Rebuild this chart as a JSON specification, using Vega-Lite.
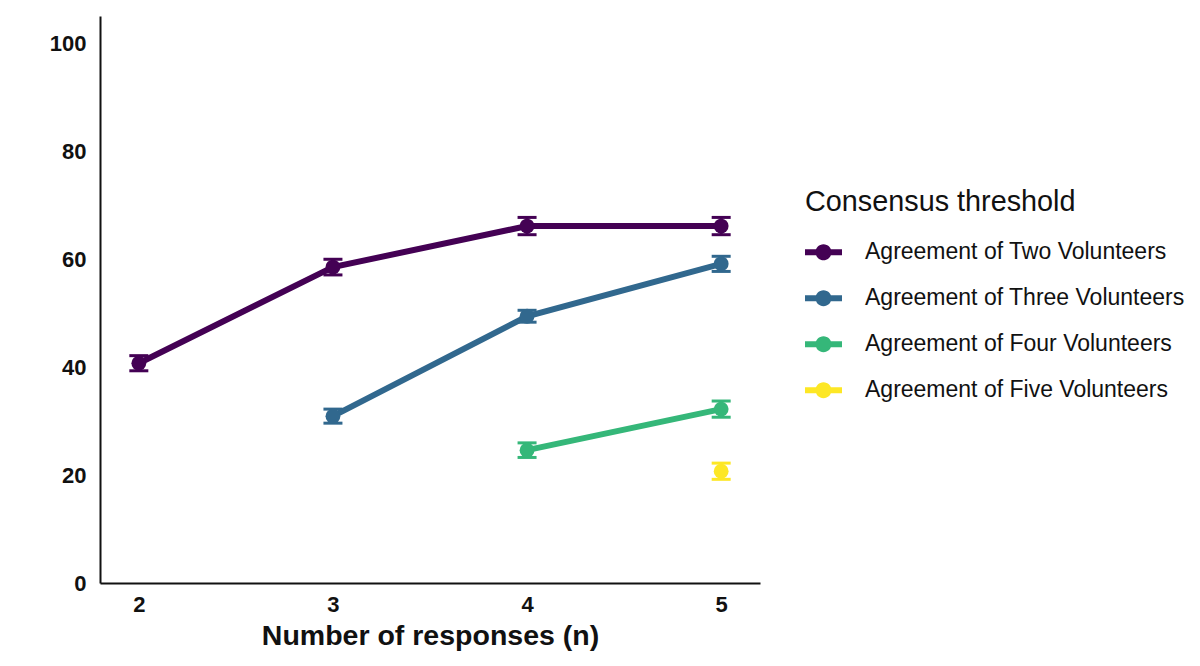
{
  "$schema": "https://vega.github.io/schema/vega-lite/v6.json",
  "autosize": {"type": "none"},
  "width": 660,
  "height": 567,
  "padding": {"left": 100, "top": 16, "right": 440, "bottom": 83},
  "background": "white",
  "config": {
    "view": {"stroke": null},
    "font": "Liberation Sans",
    "axis": {
      "grid": false,
      "ticks": false,
      "domainColor": "#111111",
      "domainWidth": 2,
      "labelFont": "Liberation Sans",
      "labelFontWeight": "bold",
      "labelFontSize": 22,
      "labelColor": "#111111",
      "titleFont": "Liberation Sans",
      "titleFontWeight": "bold",
      "titleFontSize": 28.5,
      "titleColor": "#111111"
    },
    "legend": {
      "titleFont": "Liberation Sans",
      "titleFontSize": 28.8,
      "titleFontWeight": "normal",
      "titleColor": "#111111",
      "titleLimit": 500,
      "labelFont": "Liberation Sans",
      "labelFontSize": 23,
      "labelColor": "#111111",
      "labelLimit": 400
    }
  },
  "data": {
    "values": [
      {"threshold": "Agreement of Two Volunteers", "n": 2, "accuracy": 40.7, "lo": 39.3, "hi": 42.1},
      {"threshold": "Agreement of Two Volunteers", "n": 3, "accuracy": 58.5, "lo": 57.05, "hi": 59.95},
      {"threshold": "Agreement of Two Volunteers", "n": 4, "accuracy": 66.1, "lo": 64.5, "hi": 67.7},
      {"threshold": "Agreement of Two Volunteers", "n": 5, "accuracy": 66.1, "lo": 64.5, "hi": 67.7},
      {"threshold": "Agreement of Three Volunteers", "n": 3, "accuracy": 30.9, "lo": 29.6, "hi": 32.2},
      {"threshold": "Agreement of Three Volunteers", "n": 4, "accuracy": 49.4, "lo": 48.3, "hi": 50.5},
      {"threshold": "Agreement of Three Volunteers", "n": 5, "accuracy": 59.1, "lo": 57.7, "hi": 60.5},
      {"threshold": "Agreement of Four Volunteers", "n": 4, "accuracy": 24.6, "lo": 23.25, "hi": 25.95},
      {"threshold": "Agreement of Four Volunteers", "n": 5, "accuracy": 32.2, "lo": 30.7, "hi": 33.7},
      {"threshold": "Agreement of Five Volunteers", "n": 5, "accuracy": 20.7, "lo": 19.2, "hi": 22.2}
    ]
  },
  "encoding": {
    "x": {
      "field": "n",
      "type": "quantitative",
      "scale": {"domain": [1.8, 5.2], "nice": false, "zero": false},
      "axis": {"values": [2, 3, 4, 5], "format": "d", "labelPadding": 11, "titlePadding": 6},
      "title": "Number of responses (n)"
    },
    "color": {
      "field": "threshold",
      "type": "nominal",
      "scale": {
        "domain": ["Agreement of Two Volunteers", "Agreement of Three Volunteers", "Agreement of Four Volunteers", "Agreement of Five Volunteers"],
        "range": ["#440154", "#31688E", "#35B779", "#FDE725"]
      },
      "legend": {
        "title": "Consensus threshold",
        "orient": "none",
        "legendX": 705,
        "legendY": 172,
        "symbolType": "M-1,-0.16H-0.38V0.16H-1Z M0.38,-0.16H1V0.16H0.38Z M-0.43,0A0.43,0.43,0,0,1,0.43,0A0.43,0.43,0,0,1,-0.43,0Z",
        "symbolSize": 1369,
        "symbolStrokeWidth": 0,
        "symbolOpacity": 1,
        "rowPadding": 15,
        "titlePadding": 17,
        "labelOffset": 23,
        "encode": {
          "symbols": {
            "update": {
              "fill": {"scale": "color", "field": "value"},
              "stroke": {"value": "transparent"},
              "opacity": {"value": 1}
            }
          }
        }
      }
    }
  },
  "layer": [
    {
      "mark": {"type": "line", "strokeWidth": 6},
      "encoding": {
        "y": {
          "field": "accuracy",
          "type": "quantitative",
          "scale": {"domain": [0, 105], "nice": false},
          "axis": {"values": [0, 20, 40, 60, 80, 100], "labelPadding": 14, "titlePadding": 9},
          "title": "Accuracy (%)"
        }
      }
    },
    {
      "mark": {"type": "errorbar", "opacity": 1, "ticks": {"size": 19, "thickness": 3, "opacity": 1}, "rule": {"strokeWidth": 3, "opacity": 1}},
      "encoding": {
        "y": {"field": "lo", "type": "quantitative", "title": null},
        "y2": {"field": "hi"}
      }
    },
    {
      "mark": {"type": "point", "filled": true, "size": 220, "opacity": 1},
      "encoding": {
        "y": {"field": "accuracy", "type": "quantitative"}
      }
    }
  ]
}
